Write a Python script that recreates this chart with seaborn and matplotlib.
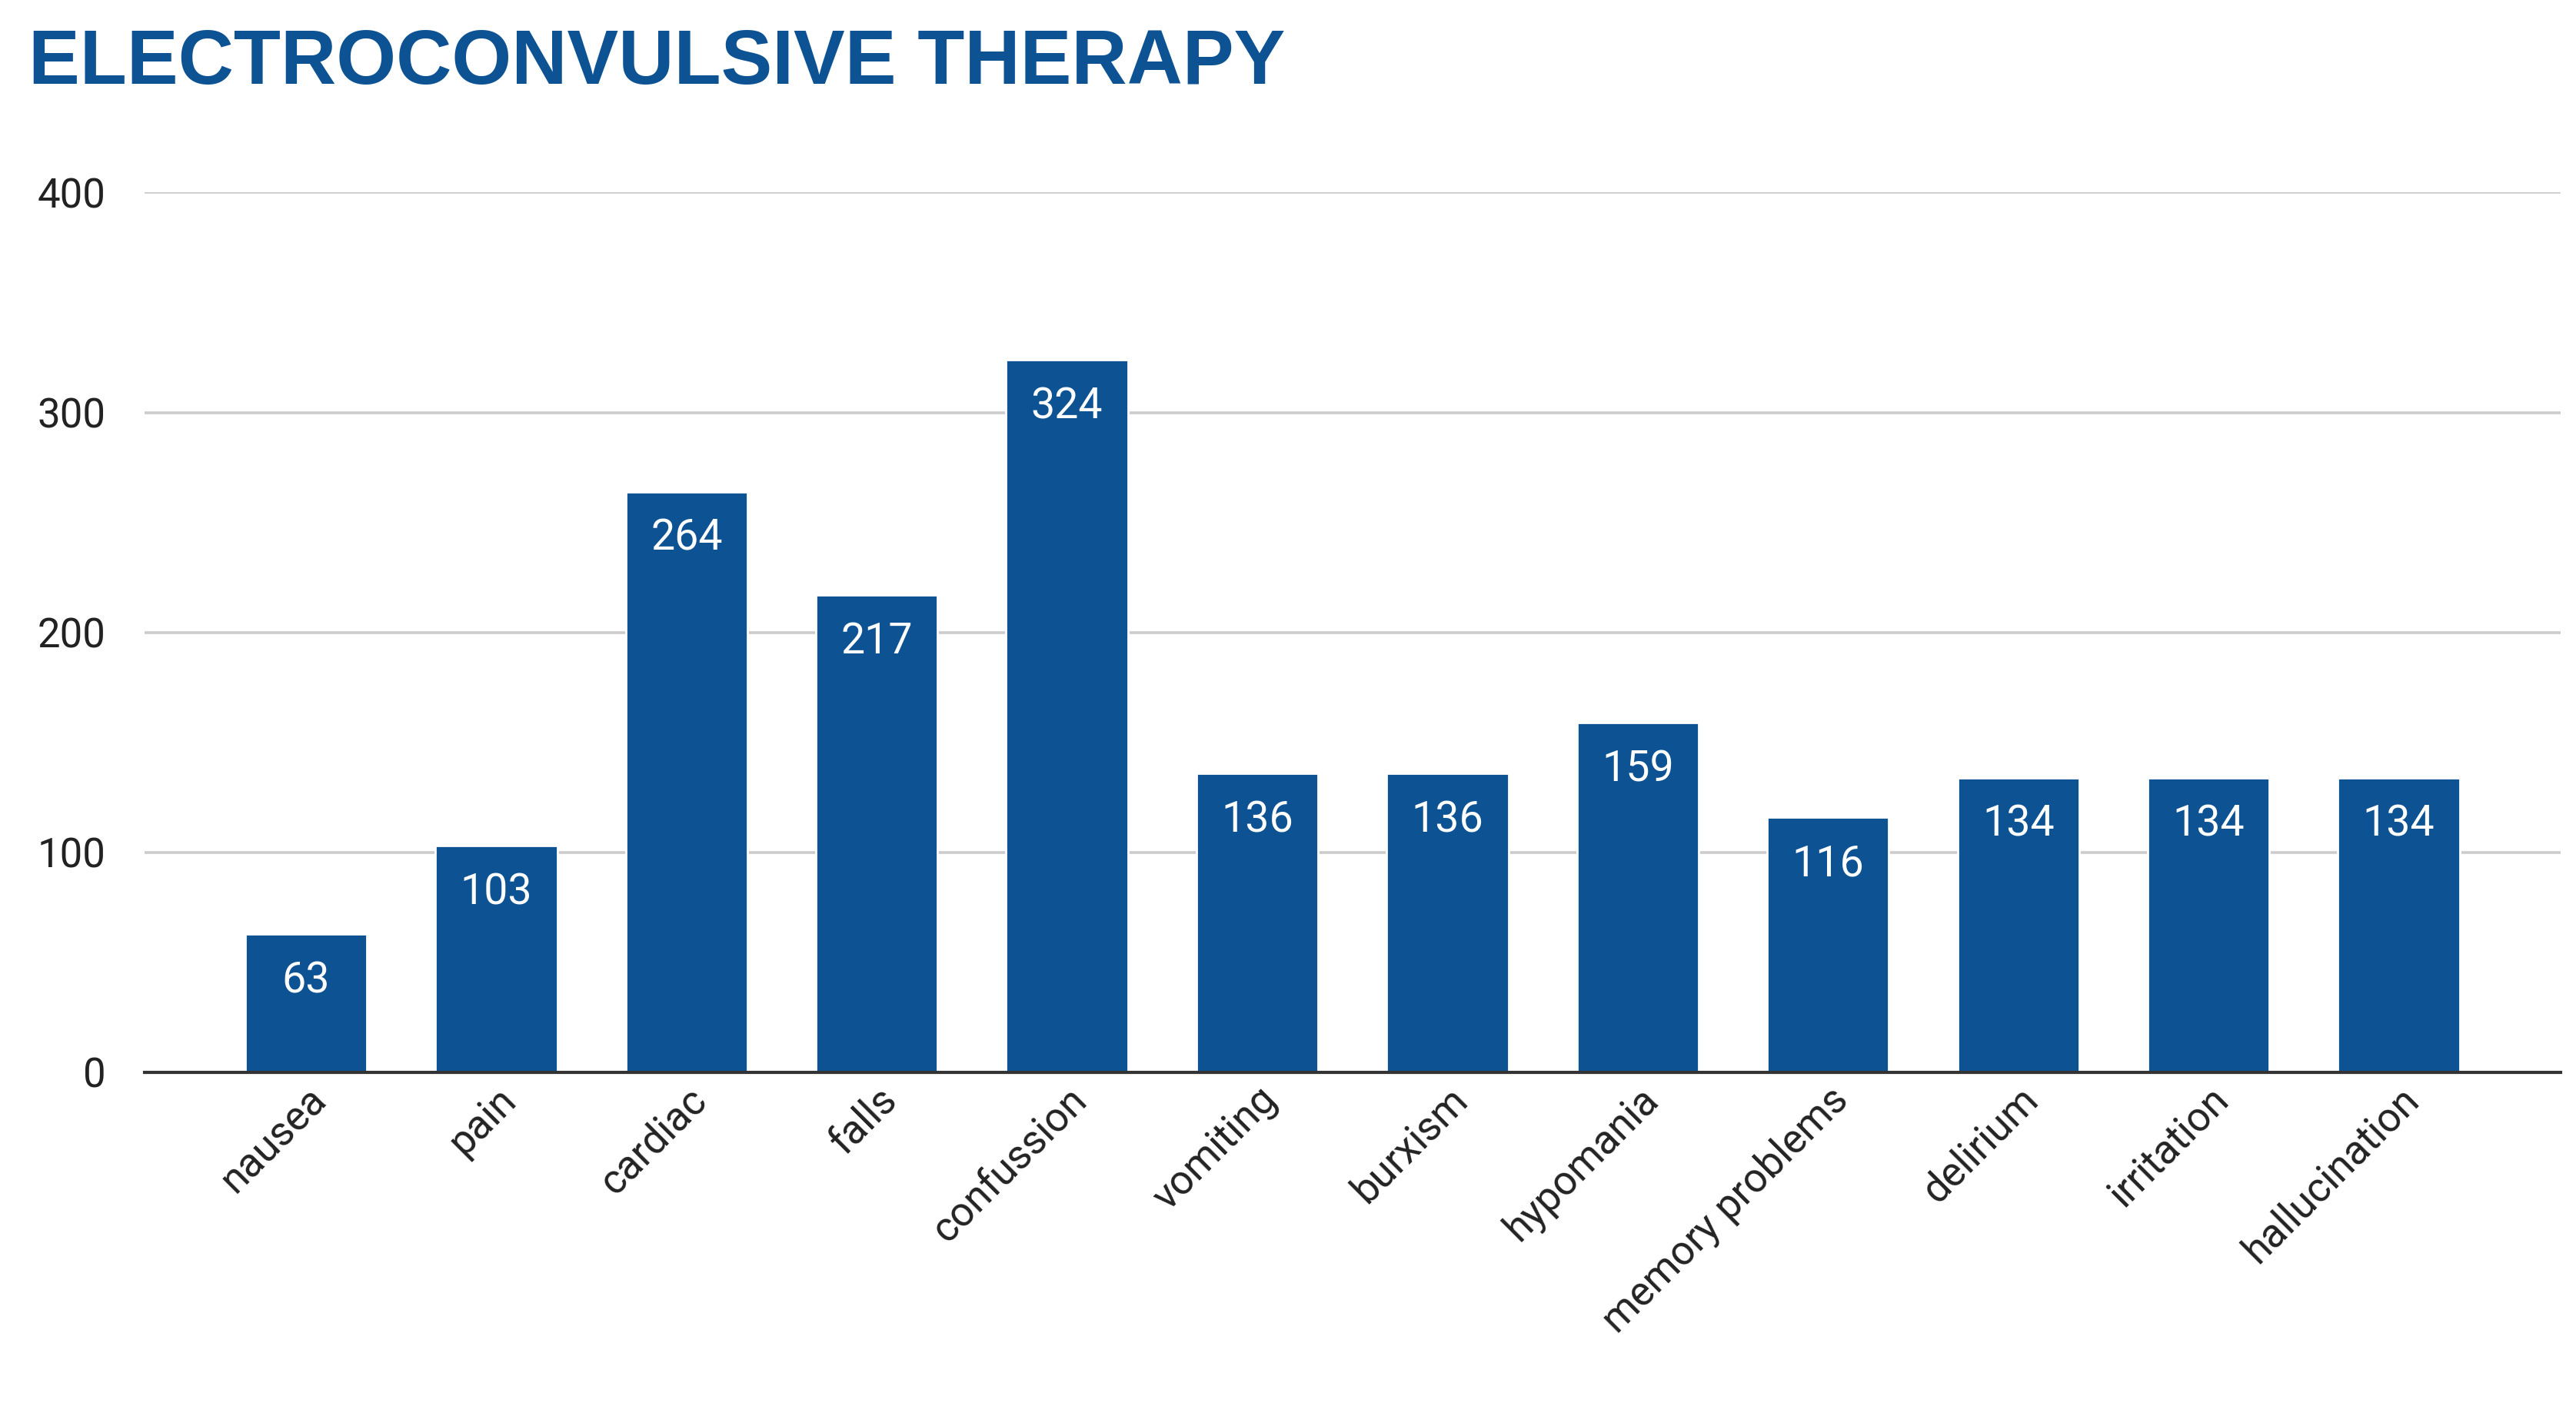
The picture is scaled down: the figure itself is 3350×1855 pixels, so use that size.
import matplotlib
matplotlib.use("Agg")
import matplotlib.pyplot as plt
import seaborn as sns
import pandas as pd

categories = ["nausea", "pain", "cardiac", "falls", "confussion", "vomiting", "burxism",
              "hypomania", "memory problems", "delirium", "irritation", "hallucination"]
values = [63, 103, 264, 217, 324, 136, 136, 159, 116, 134, 134, 134]

BLUE = "#0D5394"

sns.set_style("white")
plt.rcParams['font.family'] = ['Roboto', 'DejaVu Sans']

df = pd.DataFrame({"cat": categories, "val": values})
fig = plt.figure(figsize=(16.75, 9.275), dpi=200)
ax = fig.add_axes([0.056, 0.248, 0.938, 0.617])
sns.barplot(data=df, x="cat", y="val", color=BLUE, width=0.64, saturation=1, ax=ax)

ax.set_ylim(0, 400)
ax.set_yticks([0, 100, 200, 300, 400])
ax.yaxis.grid(True, color="#CCCCCC", linewidth=1.3)
ax.set_axisbelow(True)
for s in ["top", "right", "left"]:
    ax.spines[s].set_visible(False)
ax.spines["bottom"].set_color("#333333")
ax.spines["bottom"].set_linewidth(1.5)
ax.set_xlabel("")
ax.set_ylabel("")
ax.tick_params(axis="y", labelsize=19, length=0, pad=18, labelcolor="#222222")
ax.tick_params(axis="x", labelsize=19, length=0, labelcolor="#222222")
ax.set_xlim(-0.85, 11.85)
plt.setp(ax.get_xticklabels(), rotation=45, ha="right", rotation_mode="anchor")

for i, v in enumerate(values):
    ax.text(i, v - 12, str(v), ha="center", va="top", color="white", fontsize=20)

fig.text(0.011, 0.955, "ELECTROCONVULSIVE THERAPY", fontsize=36, fontweight="bold",
         color=BLUE, family="Liberation Sans", va="center", ha="left")

fig.savefig("out.png", dpi=200, facecolor="white")
